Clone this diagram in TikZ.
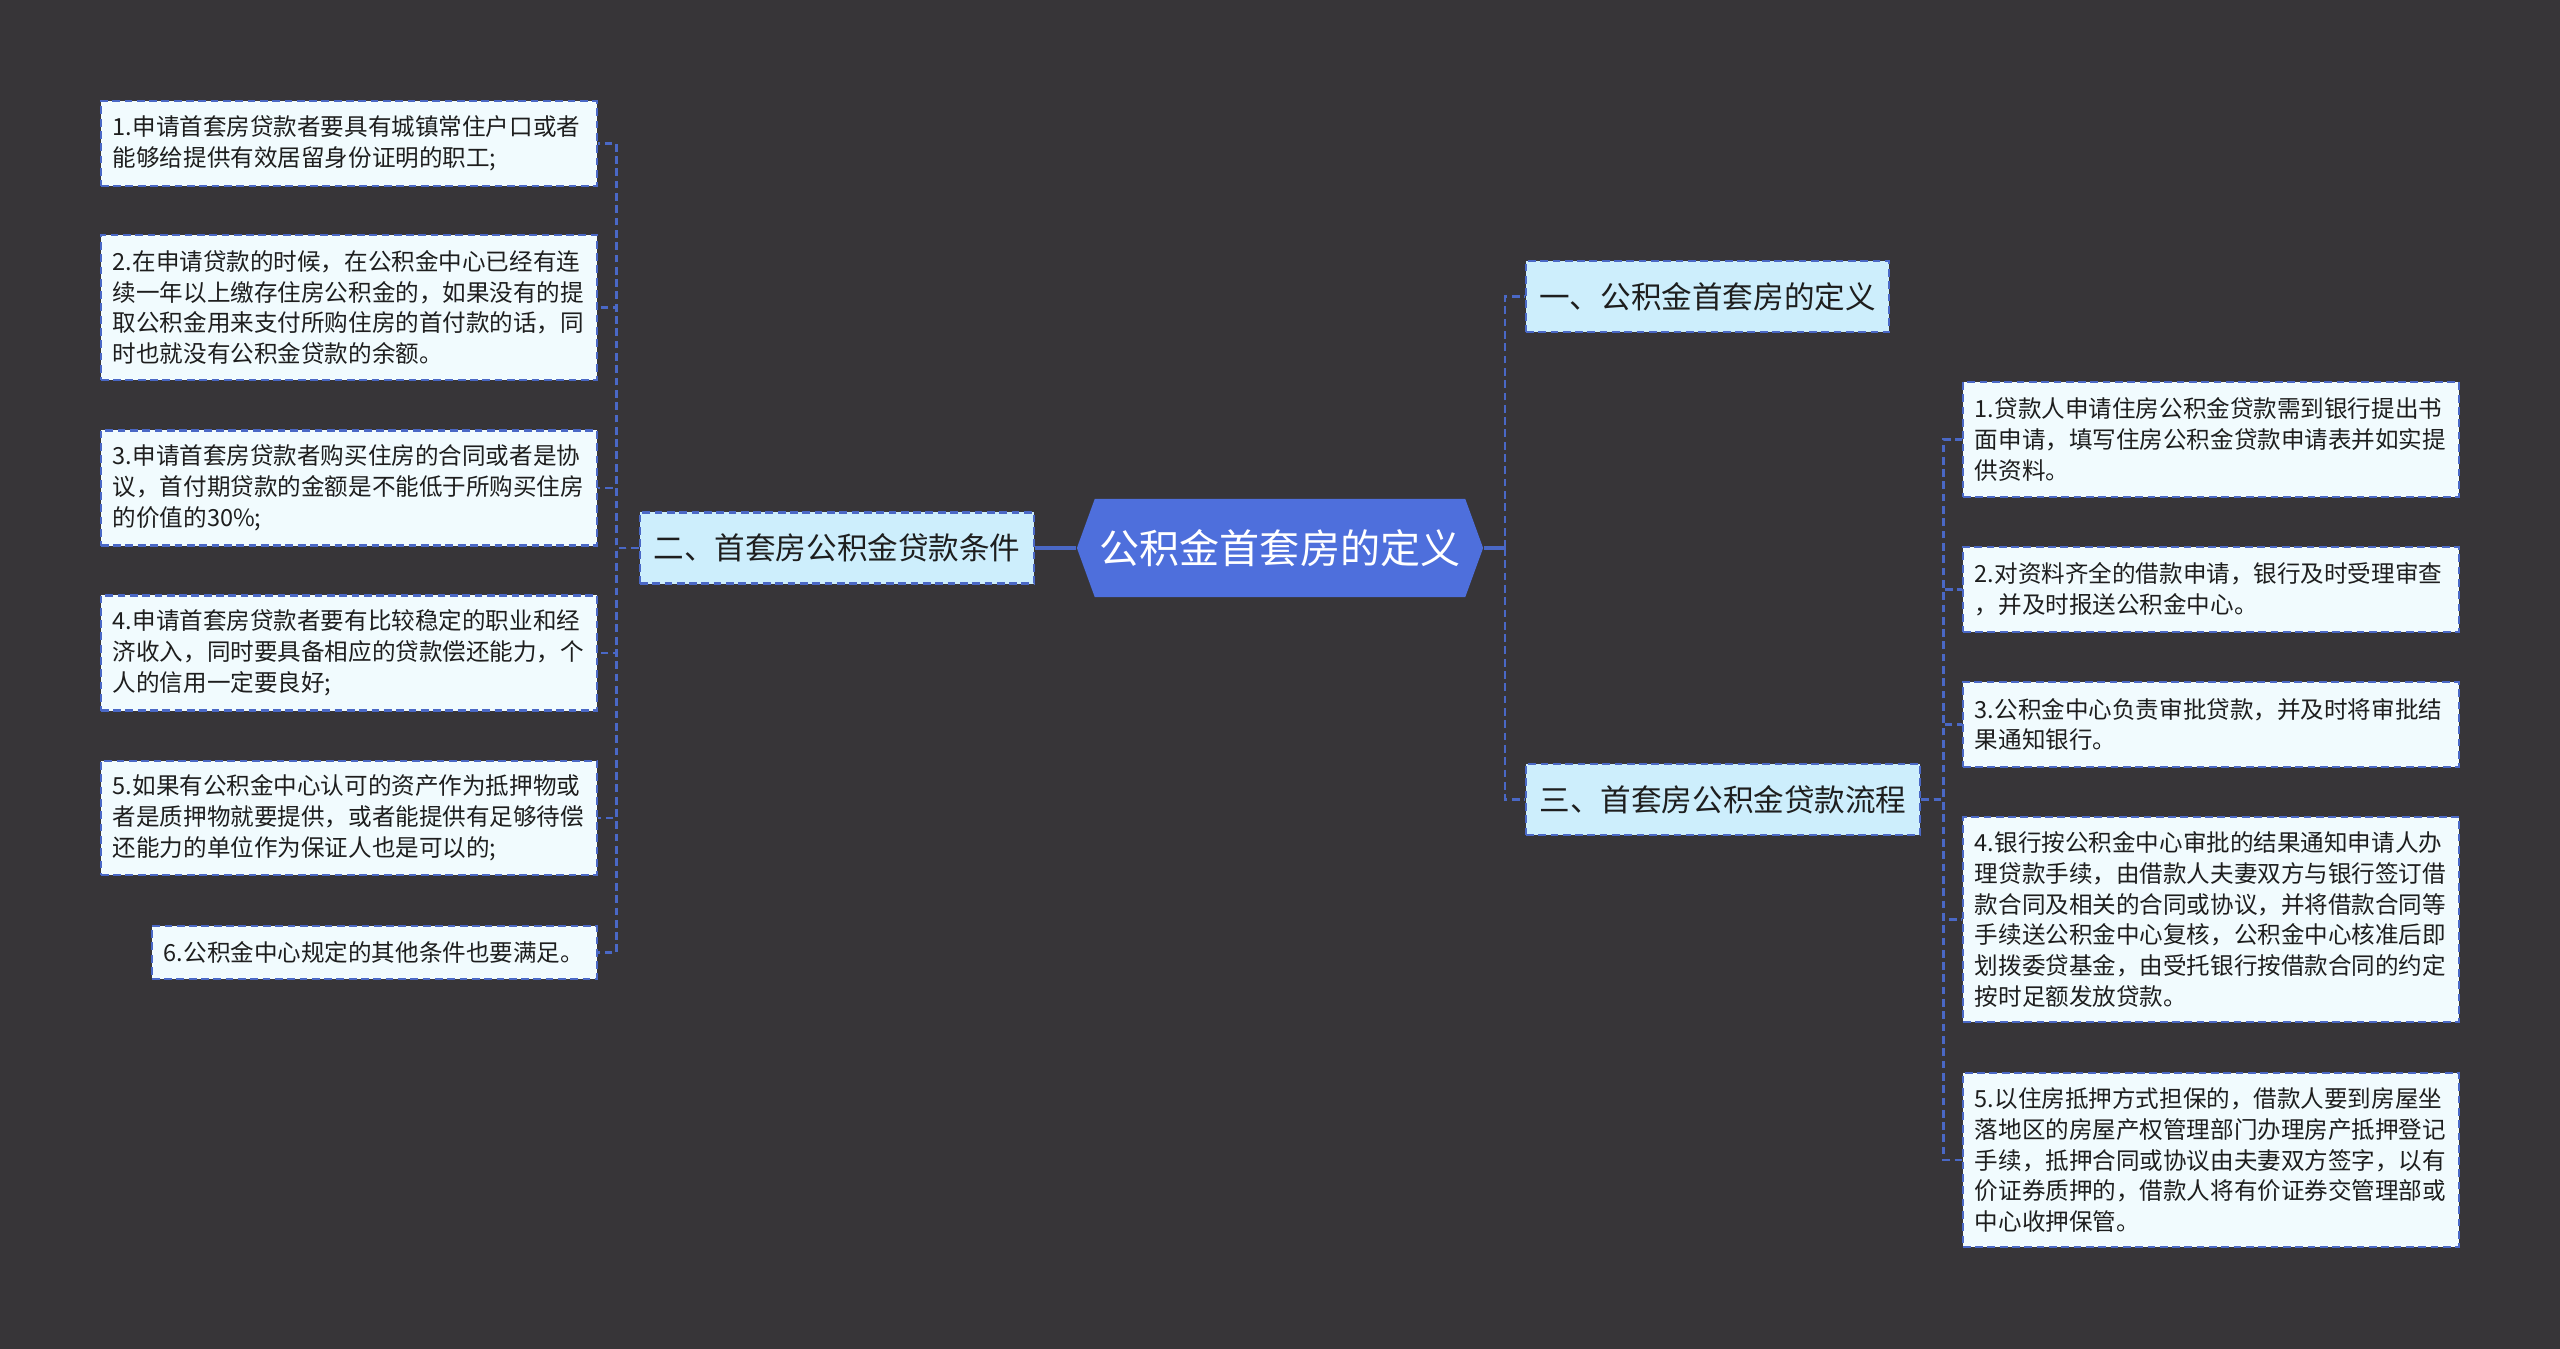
\documentclass[tikz,border=0pt]{standalone}
\usepackage{fontspec}
\setmainfont{Noto Sans CJK SC}
\usetikzlibrary{shapes.symbols}
\definecolor{gjjBg}{HTML}{373538}
\definecolor{gjjBlue}{HTML}{4E6FDC}
\definecolor{gjjLine}{HTML}{4A68C6}
\definecolor{gjjPale}{HTML}{CDEEFC}
\definecolor{gjjLeaf}{HTML}{F1FBFE}
\definecolor{gjjInk}{HTML}{1E1E1E}
\tikzset{
  gjj link/.style={draw=gjjLine, line width=0.75pt, dash pattern=on 2.2pt off 1.3pt},
  gjj root link/.style={draw=gjjLine, line width=1.1pt},
  gjj root/.style={signal, signal to=east and west, signal pointer angle=140, fill=gjjBlue, text=white, font=\fontsize{11.4pt}{13pt}\selectfont, minimum width=4.06cm, minimum height=0.98cm, inner sep=0pt},
  gjj branch/.style={rectangle, draw=gjjLine, fill=gjjPale, line width=0.65pt, dash pattern=on 2.2pt off 1.3pt, text=gjjInk, font=\fontsize{8.7pt}{10pt}\selectfont, minimum height=0.71cm, inner sep=0pt},
  gjj leaf/.style={rectangle, draw=gjjLine, fill=gjjLeaf, line width=0.65pt, dash pattern=on 2.2pt off 1.3pt, text=gjjInk, font=\fontsize{6.7pt}{8.8pt}\selectfont, text width=4.72cm, align=left, inner xsep=0.12cm, inner ysep=0pt},
}
\begin{document}
\begin{tikzpicture}[x=0.01cm,y=-0.01cm]
  \fill[gjjBg] (0,0) rectangle (2560,1349);
  \useasboundingbox (0,0) rectangle (2560,1349);
  % Centre and the three main branches
  \node[gjj root] (root) at (1280,548) {公积金首套房的定义};
  \node[gjj branch, minimum width=3.94cm] (bcond) at (837,548) {二、首套房公积金贷款条件};
  \node[gjj branch, minimum width=3.63cm] (bdef) at (1707.5,296.5) {一、公积金首套房的定义};
  \node[gjj branch, minimum width=3.94cm] (bproc) at (1723,799.5) {三、首套房公积金贷款流程};
  % Conditions (left side)
  \node[gjj leaf, minimum height=0.85cm] (cond1) at (349,143.5) {1.申请首套房贷款者要具有城镇常住户口或者\\能够给提供有效居留身份证明的职工;};
  \node[gjj leaf, minimum height=1.45cm] (cond2) at (349,307.5) {2.在申请贷款的时候，在公积金中心已经有连\\续一年以上缴存住房公积金的，如果没有的提\\取公积金用来支付所购住房的首付款的话，同\\时也就没有公积金贷款的余额。};
  \node[gjj leaf, minimum height=1.15cm] (cond3) at (349,488) {3.申请首套房贷款者购买住房的合同或者是协\\议，首付期贷款的金额是不能低于所购买住房\\的价值的30\%;};
  \node[gjj leaf, minimum height=1.15cm] (cond4) at (349,653) {4.申请首套房贷款者要有比较稳定的职业和经\\济收入，同时要具备相应的贷款偿还能力，个\\人的信用一定要良好;};
  \node[gjj leaf, minimum height=1.14cm] (cond5) at (349,818) {5.如果有公积金中心认可的资产作为抵押物或\\者是质押物就要提供，或者能提供有足够待偿\\还能力的单位作为保证人也是可以的;};
  \node[gjj leaf, text width=4.21cm, minimum height=0.53cm] (cond6) at (374.5,952.5) {6.公积金中心规定的其他条件也要满足。};
  % Loan process (right side)
  \node[gjj leaf, minimum height=1.15cm] (proc1) at (2211,439.5) {1.贷款人申请住房公积金贷款需到银行提出书\\面申请，填写住房公积金贷款申请表并如实提\\供资料。};
  \node[gjj leaf, minimum height=0.85cm] (proc2) at (2211,589.5) {2.对资料齐全的借款申请，银行及时受理审查\\，并及时报送公积金中心。};
  \node[gjj leaf, minimum height=0.85cm] (proc3) at (2211,724.5) {3.公积金中心负责审批贷款，并及时将审批结\\果通知银行。};
  \node[gjj leaf, minimum height=2.05cm] (proc4) at (2211,919.5) {4.银行按公积金中心审批的结果通知申请人办\\理贷款手续，由借款人夫妻双方与银行签订借\\款合同及相关的合同或协议，并将借款合同等\\手续送公积金中心复核，公积金中心核准后即\\划拨委贷基金，由受托银行按借款合同的约定\\按时足额发放贷款。};
  \node[gjj leaf, minimum height=1.74cm] (proc5) at (2211,1160) {5.以住房抵押方式担保的，借款人要到房屋坐\\落地区的房屋产权管理部门办理房产抵押登记\\手续，抵押合同或协议由夫妻双方签字，以有\\价证券质押的，借款人将有价证券交管理部或\\中心收押保管。};
  % Connectors
  \draw[gjj root link] (root.west) -- (bcond.east);
  \draw[gjj root link] (root.east) -- ++(21,0) coordinate (rtrunk);
  \foreach \b in {bdef,bproc} \draw[gjj link] (rtrunk) |- (\b.west);
  \foreach \n in {1,...,6} \draw[gjj link] (bcond.west) -- ++(-22,0) |- (cond\n.east);
  \foreach \n in {1,...,5} \draw[gjj link] (bproc.east) -- ++(22,0) |- (proc\n.west);
\end{tikzpicture}
\end{document}
